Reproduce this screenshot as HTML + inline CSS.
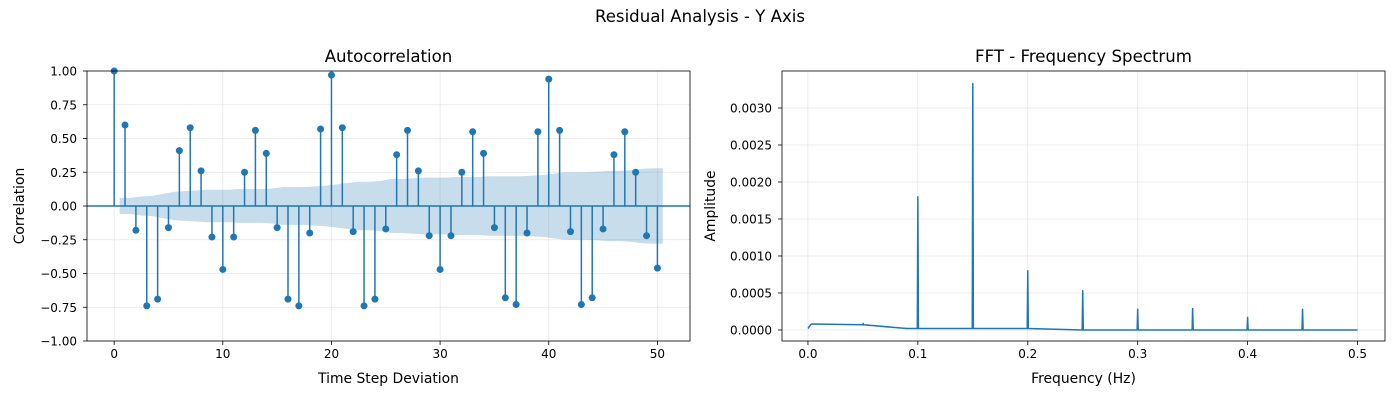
<!DOCTYPE html>
<html><head><meta charset="utf-8"><style>
body{margin:0;background:#fff;font-family:"DejaVu Sans","Liberation Sans",sans-serif;}
svg text{font-family:"DejaVu Sans","Liberation Sans",sans-serif;fill:#000;}
</style></head><body>
<svg id="c" width="1400" height="400" xmlns="http://www.w3.org/2000/svg">
<text x="700" y="22" text-anchor="middle" font-size="16.6">Residual Analysis - Y Axis</text>
</svg>
<script>
const acfLags=[0,1,2,3,4,5,6,7,8,9,10,11,12,13,14,15,16,17,18,19,20,21,22,23,24,25,26,27,28,29,30,31,32,33,34,35,36,37,38,39,40,41,42,43,44,45,46,47,48,49,50];
const acfValues=[1.0,0.60,-0.18,-0.74,-0.69,-0.16,0.41,0.58,0.26,-0.23,-0.47,-0.23,0.25,0.56,0.39,-0.16,-0.69,-0.74,-0.20,0.57,0.97,0.58,-0.19,-0.74,-0.69,-0.17,0.38,0.56,0.26,-0.22,-0.47,-0.22,0.25,0.55,0.39,-0.16,-0.68,-0.73,-0.20,0.55,0.94,0.56,-0.19,-0.73,-0.68,-0.17,0.38,0.55,0.25,-0.22,-0.46];
const confBand=[0.06,0.06,0.07,0.075,0.09,0.105,0.11,0.115,0.12,0.12,0.12,0.125,0.125,0.125,0.13,0.14,0.14,0.14,0.145,0.15,0.16,0.17,0.18,0.18,0.185,0.20,0.20,0.205,0.21,0.21,0.21,0.215,0.215,0.215,0.22,0.22,0.22,0.22,0.225,0.23,0.24,0.25,0.25,0.25,0.255,0.26,0.26,0.265,0.275,0.28,0.28];
const acfYTicks=[-1.0,-0.75,-0.5,-0.25,0,0.25,0.5,0.75,1.0];
const acfXTicks=[0,10,20,30,40,50];
const fftFreq=[0,0.003,0.05,0.0502,0.0505,0.09,0.0995,0.1,0.1005,0.149,0.1495,0.15,0.1505,0.2,0.1995,0.2,0.2005,0.25,0.2495,0.25,0.2505,0.2995,0.3,0.3005,0.3495,0.35,0.3505,0.3995,0.4,0.4005,0.4495,0.45,0.4505,0.5];
const fftAmp=[0.00002,0.00008,0.00007,0.00009,0.00007,0.00002,0.00002,0.0018,0.00002,0.00002,0.00002,0.00333,0.00002,0.00002,0.00002,0.0008,0.00002,0.0,0.0,0.00053,0.0,0.0,0.00028,0.0,0.0,0.00029,0.0,0.0,0.00017,0.0,0.0,0.00028,0.0,0.0];
const fftYTicks=[0,0.0005,0.001,0.0015,0.002,0.0025,0.003];
const fftXTicks=[0,0.1,0.2,0.3,0.4,0.5];
const NS="http://www.w3.org/2000/svg",svg=document.getElementById('c');
function mk(t,a,p){const e=document.createElementNS(NS,t);for(const k in a)e.setAttribute(k,a[k]);(p||svg).appendChild(e);return e;}
const blue="#1f77b4";
function axes(L,R,T,B,xs,ys,xt,yt,xf,yf,title,xl,yl,nm){
  const g=mk('g',{});
  
  
  xt.forEach(v=>{const x=xs(v);
    mk('line',{x1:x,x2:x,y1:T,y2:B,stroke:'#b0b0b0','stroke-opacity':0.3,'stroke-width':0.8},g);
    mk('line',{x1:x,x2:x,y1:B,y2:B+4,stroke:'#000','stroke-width':0.8},g);
    const t=mk('text',{x:x,y:B+17,'text-anchor':'middle','font-size':12},g);t.textContent=xf(v);
    
    });
  yt.forEach(v=>{const y=ys(v);
    mk('line',{x1:L,x2:R,y1:y,y2:y,stroke:'#b0b0b0','stroke-opacity':0.3,'stroke-width':0.8},g);
    mk('line',{x1:L-4,x2:L,y1:y,y2:y,stroke:'#000','stroke-width':0.8},g);
    const t=mk('text',{x:L-10,y:y+4.5,'text-anchor':'end','font-size':12},g);t.textContent=yf(v).replace('-','\u2212');
    
    });
  let t=mk('text',{x:(L+R)/2,y:T-9,'text-anchor':'middle','font-size':16.6},g);t.textContent=title;
  
  
  t=mk('text',{x:(L+R)/2,y:B+42,'text-anchor':'middle','font-size':13.9},g);t.textContent=xl;
  
  
  t=mk('text',{x:0,y:0,'text-anchor':'middle','font-size':13.9,transform:`translate(${L-(nm=='acf-chart'?63:67)},${(T+B)/2}) rotate(-90)`},g);t.textContent=yl;
  
  
  return g;
}
{const L=87,R=690,T=71,B=341;
 const xs=v=>L+(v+2.5)/55.5*(R-L), ys=v=>T+(1-v)/2*(B-T);
 const g=axes(L,R,T,B,xs,ys,acfXTicks,acfYTicks,v=>String(v),v=>v.toFixed(2),'Autocorrelation','Time Step Deviation','Correlation','acf-chart');
 let up='',dn='';
 acfLags.forEach((l,i)=>{up+=(i?'L':'M')+xs(l+0.5)+','+ys(confBand[i]);});
 for(let i=acfLags.length-1;i>=0;i--)dn+='L'+xs(acfLags[i]+0.5)+','+ys(-confBand[i]);
 const band=mk('path',{d:up+dn+'Z',fill:blue,'fill-opacity':0.25},g);
 
 
 mk('line',{x1:L,x2:R,y1:ys(0),y2:ys(0),stroke:blue,'stroke-width':1.5},g);
 acfLags.forEach((l,i)=>{
  const s=mk('line',{x1:xs(l),x2:xs(l),y1:ys(0),y2:ys(acfValues[i]),stroke:blue,'stroke-width':1.5},g);
  
  
  const c=mk('circle',{cx:xs(l),cy:ys(acfValues[i]),r:3.5,fill:blue},g);
  
  });
 mk('rect',{x:L,y:T,width:R-L,height:B-T,fill:'none',stroke:'#000','stroke-width':0.8},g);
}
{const L=782,R=1385,T=71,B=341;
 const x0=-0.0236,x1=0.525,y0=-0.000149,y1=0.0035;
 const xs=v=>L+(v-x0)/(x1-x0)*(R-L), ys=v=>B-(v-y0)/(y1-y0)*(B-T);
 const g=axes(L,R,T,B,xs,ys,fftXTicks,fftYTicks,v=>v.toFixed(1),v=>v.toFixed(4),'FFT - Frequency Spectrum','Frequency (Hz)','Amplitude','fft-chart');
 let d='';fftFreq.forEach((f,i)=>{d+=(i?'L':'M')+xs(f).toFixed(2)+','+ys(fftAmp[i]).toFixed(2);});
 const p=mk('path',{d:d,fill:'none',stroke:blue,'stroke-width':1.5,'stroke-linejoin':'round'},g);
 
 
 mk('rect',{x:L,y:T,width:R-L,height:B-T,fill:'none',stroke:'#000','stroke-width':0.8},g);
}
</script>
</body></html>
